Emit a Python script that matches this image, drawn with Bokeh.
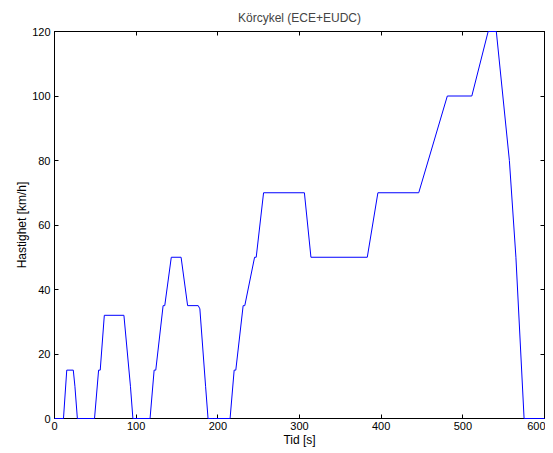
from bokeh.plotting import figure
from bokeh.models import Range1d, LinearAxis, FixedTicker
from bokeh.embed import file_html
from bokeh.resources import INLINE

# Tid [s] och hastighet [km/h] (ECE-15 + EUDC)
tid = [0, 11, 15, 23, 25, 28, 49, 54, 56, 61, 85, 93, 96, 117, 122, 124, 133, 135,
       143, 155, 163, 176, 178, 185, 188, 195,
       215, 220, 222, 231, 233, 245, 247, 256, 306, 314, 383, 396, 446, 481, 511,
       531, 541, 557, 565, 575, 600]
hastighet = [0, 0, 15, 15, 10, 0, 0, 15, 15, 32, 32, 10, 0, 0, 15, 15, 35, 35,
             50, 50, 35, 35, 34, 10, 0, 0,
             0, 15, 15, 35, 35, 50, 50, 70, 70, 50, 50, 70, 70, 100, 100,
             120, 120, 80, 50, 0, 0]

x_ticks = [0, 100, 200, 300, 400, 500, 600]
y_ticks = [0, 20, 40, 60, 80, 100, 120]

FONT = "Liberation Sans"

p = figure(width=545, height=450, output_backend="svg", toolbar_location=None,
           x_range=Range1d(0, 600), y_range=Range1d(0, 120),
           title="Körcykel (ECE+EUDC)",
           min_border_left=54, min_border_right=1, min_border_top=31, min_border_bottom=32)

p.title.align = "center"
p.title.text_font = FONT
p.title.text_font_size = "12px"
p.title.text_font_style = "normal"
p.title.standoff = 13

p.xgrid.visible = False
p.ygrid.visible = False
p.outline_line_color = "black"
p.outline_line_alpha = 1.0
p.background_fill_color = "white"
p.border_fill_color = "white"

for ax, ticks in ((p.xaxis[0], x_ticks), (p.yaxis[0], y_ticks)):
    ax.ticker = FixedTicker(ticks=ticks)
    ax.major_tick_in = 4
    ax.major_tick_out = 0
    ax.minor_tick_in = 0
    ax.minor_tick_out = 0
    ax.axis_line_color = "black"
    ax.major_tick_line_color = "black"
    ax.major_label_text_font = FONT
    ax.major_label_text_font_size = "11px"
    ax.major_label_text_color = "black"
    ax.axis_label_text_font = FONT
    ax.axis_label_text_font_size = "12px"
    ax.axis_label_text_font_style = "normal"
    ax.axis_label_text_color = "black"

p.xaxis.axis_label = "Tid [s]"
p.yaxis.axis_label = "Hastighet [km/h]"
p.xaxis.major_label_standoff = 3
p.xaxis.axis_label_standoff = 0
p.yaxis.major_label_standoff = 4
p.yaxis.axis_label_standoff = 0

top = LinearAxis(ticker=FixedTicker(ticks=x_ticks))
right = LinearAxis(ticker=FixedTicker(ticks=y_ticks))
for ax, ticks in ((top, x_ticks), (right, y_ticks)):
    ax.major_tick_in = 4
    ax.major_tick_out = 0
    ax.minor_tick_in = 0
    ax.minor_tick_out = 0
    ax.major_label_overrides = {t: "" for t in ticks}
    ax.major_label_text_font_size = "1px"
    ax.major_label_standoff = 0
    ax.axis_line_color = "black"
p.add_layout(top, "above")
p.add_layout(right, "right")

r = p.line(tid, hastighet, line_color="#0000ff", line_width=1)
r.level = "overlay"

open("out.html", "w").write(file_html(p, INLINE))
